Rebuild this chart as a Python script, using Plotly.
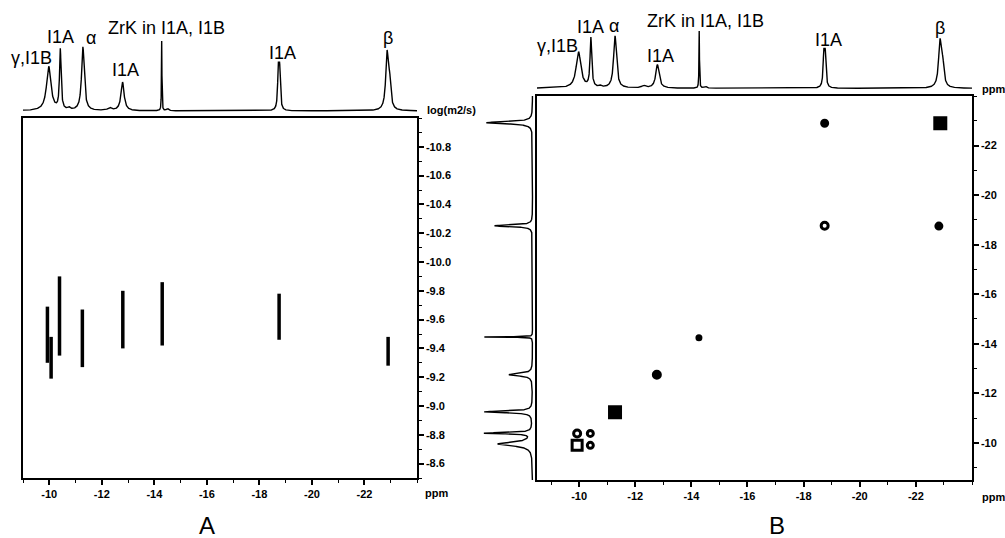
import numpy as np
import plotly.graph_objects as go

W, H = 1005, 538

# ---------------- data ----------------
# 1D spectrum peaks (shared by A top and B top projections)
peak_ppm = [-9.98, -10.42, -11.28, -12.79, -14.28, -18.72, -18.77, -22.86, -22.96, -10.75, -12.30, -14.50]
peak_height = [0.63, 0.86, 0.91, 0.41, 1.00, 0.55, 0.55, 0.80, 0.35, 0.03, 0.04, 0.03]
peak_width = [0.10, 0.035, 0.06, 0.07, 0.01, 0.03, 0.03, 0.06, 0.05, 0.05, 0.08, 0.05]

# B left (F1) projection peaks
proj_ppm = [-9.95, -10.39, -11.25, -12.75, -14.27, -18.76, -22.92]
proj_height = [0.72, 0.98, 1.00, 0.49, 1.00, 0.79, 0.96]
proj_width = [0.09, 0.03, 0.04, 0.06, 0.01, 0.04, 0.05]

# A: DOSY cross-peaks (chemical shift, log D range)
dosy_ppm = [-9.93, -10.07, -10.39, -11.26, -12.80, -14.30, -18.75, -22.90]
dosy_logD_low = [-9.69, -9.48, -9.90, -9.67, -9.80, -9.86, -9.78, -9.48]
dosy_logD_high = [-9.30, -9.19, -9.35, -9.27, -9.40, -9.42, -9.46, -9.28]

# B: cross-peaks (F2, F1, marker symbol, size)
cosy_f2 = [-9.93, -10.40, -9.93, -10.40, -11.28, -12.77, -14.27, -18.75, -22.82, -18.75, -22.87]
cosy_f1 = [-9.90, -9.90, -10.38, -10.38, -11.23, -12.75, -14.24, -18.76, -18.75, -22.90, -22.90]
cosy_symbol = ["square-open", "circle-open", "circle-open", "circle-open", "square", "circle",
               "circle", "circle-open", "circle", "circle", "square"]
cosy_size = [10, 6, 7, 6, 11, 7, 4, 7, 6, 6, 11]

# tick labels
A_x_ticks = [-10, -12, -14, -16, -18, -20, -22]
A_x_ticktext = ["-10", "-12", "-14", "-16", "-18", "-20", "-22"]
A_y_ticks = [-10.8, -10.6, -10.4, -10.2, -10.0, -9.8, -9.6, -9.4, -9.2, -9.0, -8.8, -8.6]
A_y_ticktext = ["-10.8", "-10.6", "-10.4", "-10.2", "-10.0", "-9.8", "-9.6", "-9.4", "-9.2", "-9.0", "-8.8", "-8.6"]
B_x_ticks = [-10, -12, -14, -16, -18, -20, -22]
B_x_ticktext = ["-10", "-12", "-14", "-16", "-18", "-20", "-22"]
B_y_ticks = [-10, -12, -14, -16, -18, -20, -22]
B_y_ticktext = ["-10", "-12", "-14", "-16", "-18", "-20", "-22"]

peak_labels = ["γ,I1B", "I1A", "α", "ZrK in I1A, I1B", "I1A", "I1A", "β"]

# ---------------- helpers ----------------
def px(p):
    return p / W

def py(p):
    return 1 - p / H

def spectrum(grid, pos, hgt, wid):
    s = np.zeros_like(grid)
    for c, h, w in zip(pos, hgt, wid):
        s += h * w * w / ((grid - c) ** 2 + w * w)
    return s

grid = np.arange(-8.5, -24.0001, -0.0025)
spec = spectrum(grid, peak_ppm, peak_height, peak_width)
proj = spectrum(grid, proj_ppm, proj_height, proj_width)

fig = go.Figure()
line = dict(color="black", width=1.4)

fig.add_trace(go.Scatter(x=grid, y=spec, mode="lines", line=line, xaxis="x2", yaxis="y2", hoverinfo="skip"))
for xv, lo, hi in zip(dosy_ppm, dosy_logD_low, dosy_logD_high):
    fig.add_trace(go.Scatter(x=[xv, xv], y=[lo, hi], mode="lines",
                             line=dict(color="black", width=3.5), xaxis="x", yaxis="y"))
fig.add_trace(go.Scatter(x=grid, y=spec, mode="lines", line=line, xaxis="x4", yaxis="y4", hoverinfo="skip"))
fig.add_trace(go.Scatter(x=proj, y=grid, mode="lines", line=line, xaxis="x5", yaxis="y5", hoverinfo="skip"))
fig.add_trace(go.Scatter(x=cosy_f2, y=cosy_f1, mode="markers", xaxis="x3", yaxis="y3", opacity=1,
                         marker=dict(symbol=cosy_symbol, size=cosy_size, color="black", opacity=1,
                                     line=dict(color="black", width=3))))

tickfont = dict(family="Liberation Sans, Arial", size=11, color="black", weight="bold")
ax_common = dict(showline=True, linecolor="black", linewidth=1.5, mirror=True,
                 ticks="outside", ticklen=5, tickwidth=1.5, tickcolor="black",
                 showgrid=False, zeroline=False, tickfont=tickfont, tickmode="array")
hidden = dict(visible=False, showgrid=False, zeroline=False)

A_xd = [px(23), px(417)]
A_yd = [py(478), py(118)]
B_xd = [px(537), px(972)]
B_yd = [py(480), py(96)]

minor_x = dict(tickmode="linear", tick0=-9, dtick=1, ticks="outside", ticklen=3,
               tickwidth=1.2, tickcolor="black")

fig.update_layout(
    width=W, height=H, margin=dict(l=0, r=0, t=0, b=0),
    paper_bgcolor="white", plot_bgcolor="white", showlegend=False,
    font=dict(family="Liberation Sans, Arial", color="black"),
    xaxis=dict(domain=A_xd, range=[-9, -24], anchor="y", tickvals=A_x_ticks, ticktext=A_x_ticktext,
               minor=minor_x, **ax_common),
    yaxis=dict(domain=A_yd, range=[-8.5, -11.0], anchor="x", side="right",
               tickvals=A_y_ticks, ticktext=A_y_ticktext,
               minor=dict(tickmode="linear", tick0=-11.0, dtick=0.1, ticks="outside", ticklen=3,
                          tickwidth=1.2, tickcolor="black"), **ax_common),
    xaxis2=dict(domain=A_xd, range=[-9, -24], anchor="y2", **hidden),
    yaxis2=dict(domain=[py(113), py(41)], range=[-0.03, 1.0], anchor="x2", **hidden),
    xaxis3=dict(domain=B_xd, range=[-8.5, -24], anchor="y3", tickvals=B_x_ticks, ticktext=B_x_ticktext,
                minor=minor_x, **ax_common),
    yaxis3=dict(domain=B_yd, range=[-8.5, -24], anchor="x3", side="right",
                tickvals=B_y_ticks, ticktext=B_y_ticktext, minor=minor_x, **ax_common),
    xaxis4=dict(domain=B_xd, range=[-8.5, -24], anchor="y4", **hidden),
    yaxis4=dict(domain=[py(90), py(31)], range=[-0.03, 1.0], anchor="x4", **hidden),
    xaxis5=dict(domain=[px(482), px(534)], range=[1.05, -0.03], anchor="y5", **hidden),
    yaxis5=dict(domain=B_yd, range=[-8.5, -24], anchor="x5", **hidden),
)

ann = []
lab_font = dict(family="Liberation Sans, Arial", size=18, color="black")
A_pos = [(31.5, 58), (60, 37), (91, 38), (166.5, 28), (125, 70), (282, 53), (388, 38)]
B_pos = [(557.5, 46), (590, 27), (614, 26), (705, 21), (660.5, 56), (828, 40), (940, 28)]
for t, (x, y) in zip(peak_labels, A_pos):
    ann.append(dict(text=t, x=px(x), y=py(y), xref="paper", yref="paper", showarrow=False,
                    xanchor="center", yanchor="middle", font=lab_font))
for t, (x, y) in zip(peak_labels, B_pos):
    ann.append(dict(text=t, x=px(x), y=py(y), xref="paper", yref="paper", showarrow=False,
                    xanchor="center", yanchor="middle", font=lab_font))

small_bold = dict(family="Liberation Sans, Arial", size=11, color="black", weight="bold")
for t, x, y in [("log(m2/s)", 425, 110), ("ppm", 423, 493), ("ppm", 980, 89), ("ppm", 980, 497)]:
    ann.append(dict(text=t, x=px(x), y=py(y), xref="paper", yref="paper", showarrow=False,
                    xanchor="left", yanchor="middle", font=small_bold))

big = dict(family="Liberation Sans, Arial", size=24, color="black")
for t, x, y in [("A", 207, 525), ("B", 777, 525)]:
    ann.append(dict(text=t, x=px(x), y=py(y), xref="paper", yref="paper", showarrow=False,
                    xanchor="center", yanchor="middle", font=big))

fig.update_layout(annotations=ann)
fig.write_html("out.html", config={"displayModeBar": False},
               post_script="document.body.style.margin='0px';document.body.style.overflow='hidden';")
